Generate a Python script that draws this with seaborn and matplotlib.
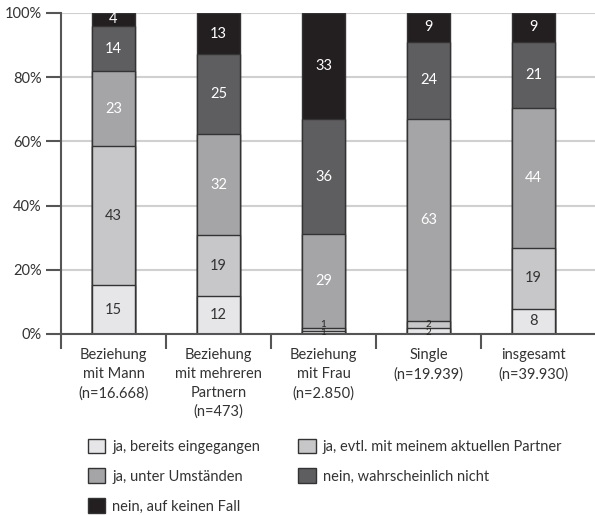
import numpy as np
import pandas as pd
import matplotlib
matplotlib.use("Agg")
import matplotlib.pyplot as plt
import seaborn as sns
from matplotlib.patches import Patch

groups = ["Beziehung\nmit Mann\n(n=16.668)", "Beziehung\nmit mehreren\nPartnern\n(n=473)",
          "Beziehung\nmit Frau\n(n=2.850)", "Single\n(n=19.939)", "insgesamt\n(n=39.930)"]
answers = ["ja, bereits eingegangen", "ja, evtl. mit meinem aktuellen Partner",
           "ja, unter Umständen", "nein, wahrscheinlich nicht", "nein, auf keinen Fall"]

bereits = [15, 12, 1, 2, 8]
evtl = [43, 19, 1, 2, 19]
umstaende = [23, 32, 29, 63, 44]
wahrscheinlich_nicht = [14, 25, 36, 24, 21]
keinen_fall = [4, 13, 33, 9, 9]

colors = ["#e6e6e8", "#c7c7c9", "#a5a5a7", "#5e5e60", "#231f20"]
text_colors = ["#333333", "#333333", "white", "white", "white"]

sns.set_theme(style="white")
plt.rcParams["font.family"] = ["Lato", "DejaVu Sans"]

values = np.array([bereits, evtl, umstaende, wahrscheinlich_nicht, keinen_fall], dtype=float)
values_pct = values / values.sum(axis=0) * 100
cum = np.cumsum(values_pct, axis=0)

fig = plt.figure(figsize=(5.95, 5.15), dpi=100)
ax = fig.add_axes([0.1025, 0.3515, 0.8975, 0.6233])

for i in range(4, -1, -1):
    df = pd.DataFrame({"group": groups, "top": cum[i]})
    sns.barplot(data=df, x="group", y="top", color=colors[i], width=0.41,
                edgecolor="#333333", linewidth=1.0, saturation=1, ax=ax, zorder=2)

for i in range(5):
    for j in range(5):
        v = values[i, j]
        mid = cum[i, j] - values_pct[i, j] / 2
        if v >= 4:
            ax.text(j, mid, f"{int(v)}", ha="center", va="center",
                    color=text_colors[i], fontsize=10.5, zorder=3)
        else:
            # tiny segments: bottom label sits low, the next one a bit higher
            y = 0.6 if i == 0 else 3.0
            ax.text(j, y, f"{int(v)}", ha="center", va="center",
                    color="#222222", fontsize=7, zorder=3)

ax.set_ylim(0, 100)
ax.set_xlim(-0.5, 4.586)
ax.set_yticks([0, 20, 40, 60, 80, 100])
ax.set_yticklabels([f"{t}%" for t in [0, 20, 40, 60, 80, 100]])
ax.yaxis.grid(True, color="#d0d0d0", linewidth=1.5, zorder=0)
ax.set_axisbelow(True)
ax.set_xlabel("")
ax.set_ylabel("")

ax.set_xticks(range(5))
ax.set_xticklabels(groups, fontsize=10.5, color="#333333", linespacing=1.45, va="top")
ax.set_xticks([-0.5, 0.5, 1.5, 2.5, 3.5], minor=True)
ax.tick_params(axis="x", which="major", length=0, pad=10)
ax.tick_params(axis="x", which="minor", length=11, width=1.5, color="#555555", bottom=True, direction="out")
ax.tick_params(axis="y", length=11, width=1.5, color="#555555", left=True, direction="out",
               labelsize=10.5, labelcolor="#333333", pad=3)

for s in ["top", "right"]:
    ax.spines[s].set_visible(False)
for s in ["left", "bottom"]:
    ax.spines[s].set_color("#555555")
    ax.spines[s].set_linewidth(1.5)

order = [0, 2, 4, 1, 3]
handles = [Patch(facecolor=colors[k], edgecolor="#333333", linewidth=1.0) for k in order]
labels = [answers[k] for k in order]
fig.legend(handles, labels, ncol=2, loc="upper left", bbox_to_anchor=(0.125, 0.174),
           frameon=False, fontsize=10.5, handlelength=1.2, handleheight=1.2,
           handletextpad=0.5, columnspacing=2.6, labelspacing=1.0, labelcolor="#333333")

fig.savefig("out.png", dpi=100)
